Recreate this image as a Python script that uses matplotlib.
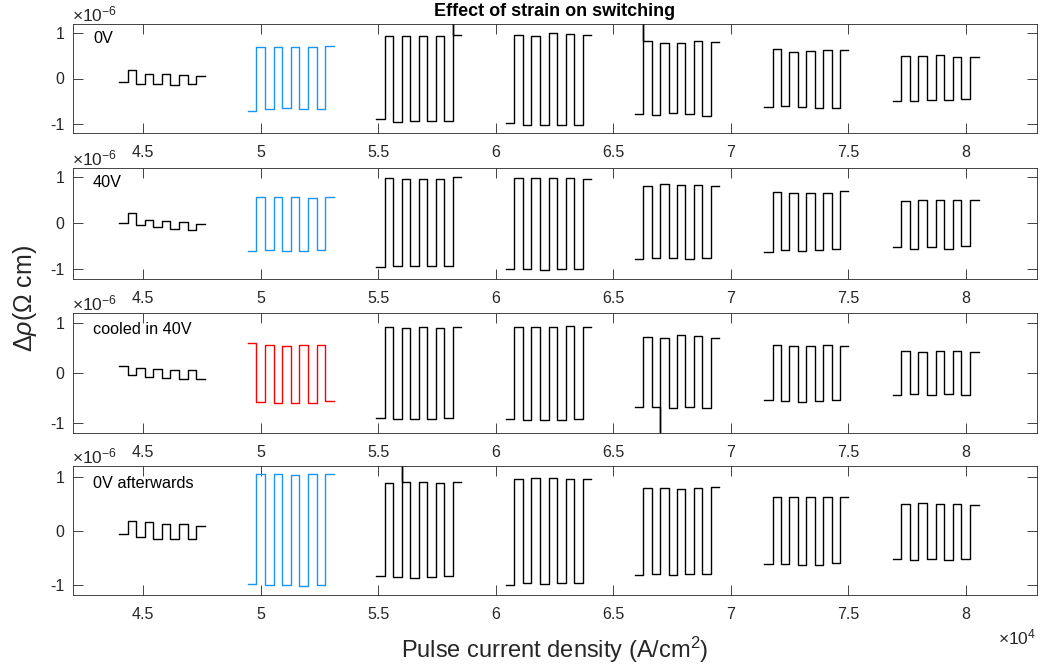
import numpy as np
import matplotlib
matplotlib.use("Agg")
import matplotlib.pyplot as plt
from matplotlib.ticker import FuncFormatter, FixedLocator

plt.rcParams['font.family'] = ['Liberation Sans', 'DejaVu Sans']
plt.rcParams['mathtext.fontset'] = 'custom'
plt.rcParams['mathtext.rm'] = 'Liberation Sans'
plt.rcParams['mathtext.it'] = 'Liberation Sans:italic'
plt.rcParams['axes.unicode_minus'] = False

# ---------------- data ----------------
# burst start / end positions (units of 1e4 A/cm^2)
burst_start = [4.399, 4.946, 5.491, 6.043, 6.591, 7.142, 7.688]
burst_end = [4.762, 5.311, 5.854, 6.406, 6.951, 7.500, 8.054]

panel_labels = ["0V", "40V", "cooled in 40V", "0V afterwards"]

# plateau levels (units of 1e-6 Ohm cm), 10 plateaus per burst
p1_levels = [
    [-0.08, 0.18, -0.12, 0.09, -0.13, 0.09, -0.15, 0.07, -0.13, 0.05],
    [-0.71, 0.69, -0.67, 0.69, -0.66, 0.70, -0.67, 0.69, -0.67, 0.72],
    [-0.89, 0.93, -0.96, 0.93, -0.95, 0.95, -0.95, 0.95, -0.94, 0.97],
    [-0.98, 0.97, -1.02, 0.95, -1.04, 1.00, -1.02, 0.99, -1.02, 0.97],
    [-0.78, 0.82, -0.80, 0.79, -0.77, 0.79, -0.78, 0.82, -0.82, 0.80],
    [-0.63, 0.66, -0.61, 0.59, -0.63, 0.60, -0.65, 0.64, -0.65, 0.64],
    [-0.49, 0.49, -0.49, 0.49, -0.48, 0.53, -0.48, 0.47, -0.46, 0.48],
]
p2_levels = [
    [0.00, 0.22, -0.03, 0.08, -0.08, 0.05, -0.13, 0.03, -0.14, -0.01],
    [-0.60, 0.58, -0.58, 0.57, -0.60, 0.57, -0.60, 0.55, -0.58, 0.58],
    [-0.94, 0.98, -0.92, 0.97, -0.93, 0.97, -0.93, 0.96, -0.93, 1.00],
    [-1.00, 0.98, -1.00, 0.98, -1.02, 0.98, -1.00, 0.98, -0.98, 0.96],
    [-0.77, 0.82, -0.75, 0.85, -0.76, 0.84, -0.78, 0.84, -0.76, 0.80],
    [-0.63, 0.67, -0.58, 0.66, -0.60, 0.66, -0.58, 0.65, -0.56, 0.70],
    [-0.52, 0.48, -0.55, 0.50, -0.52, 0.50, -0.55, 0.51, -0.50, 0.50],
]
p3_levels = [
    [0.14, -0.04, 0.11, -0.09, 0.09, -0.11, 0.07, -0.13, 0.06, -0.13],
    [0.61, -0.59, 0.56, -0.60, 0.55, -0.60, 0.57, -0.60, 0.57, -0.56],
    [-0.90, 0.92, -0.93, 0.91, -0.93, 0.92, -0.92, 0.91, -0.90, 0.92],
    [-0.93, 0.92, -0.95, 0.93, -0.94, 0.93, -0.94, 0.94, -0.93, 0.92],
    [-0.69, 0.73, -0.69, 0.70, -0.71, 0.76, -0.69, 0.74, -0.71, 0.70],
    [-0.55, 0.56, -0.57, 0.55, -0.58, 0.54, -0.56, 0.56, -0.55, 0.55],
    [-0.45, 0.45, -0.43, 0.43, -0.44, 0.44, -0.43, 0.44, -0.44, 0.42],
]
p4_levels = [
    [-0.06, 0.18, -0.12, 0.16, -0.15, 0.13, -0.15, 0.13, -0.15, 0.09],
    [-0.99, 1.06, -1.00, 1.05, -1.00, 1.04, -1.02, 1.05, -1.00, 1.06],
    [-0.84, 0.88, -0.86, 0.90, -0.87, 0.90, -0.86, 0.89, -0.85, 0.90],
    [-1.00, 0.95, -0.98, 0.97, -0.99, 0.97, -0.98, 0.96, -0.97, 0.95],
    [-0.82, 0.80, -0.80, 0.80, -0.82, 0.78, -0.81, 0.80, -0.80, 0.81],
    [-0.62, 0.63, -0.62, 0.62, -0.64, 0.63, -0.63, 0.63, -0.60, 0.63],
    [-0.53, 0.50, -0.54, 0.52, -0.53, 0.50, -0.55, 0.49, -0.53, 0.48],
]
all_levels = [p1_levels, p2_levels, p3_levels, p4_levels]

# spikes: (panel, burst, transition index, extreme value in 1e-6)
spikes = [(0, 2, 9, 1.6), (0, 4, 1, 1.6), (2, 4, 3, -1.6), (3, 2, 3, 1.6)]

# colour of the second burst in each panel
burst2_colors = ["#1A94F5", "#1A94F5", "#FF0000", "#1A94F5"]

x_ticks = [4.5, 5, 5.5, 6, 6.5, 7, 7.5, 8]
y_ticks = [-1, 0, 1]

# ---------------- layout ----------------
W, H = 1041, 668
fig = plt.figure(figsize=(W / 100, H / 100), dpi=100)
ax_left, ax_right = 72.5, 1036.5
panel_px = [(24.3, 132.7), (168.0, 278.7), (313.3, 432.7), (466.0, 595.3)]

AXC = "#262626"
for p, (top, bot) in enumerate(panel_px):
    ax = fig.add_axes([ax_left / W, 1 - bot / H, (ax_right - ax_left) / W, (bot - top) / H])
    levels = all_levels[p]
    for b in range(len(burst_start)):
        lv = levels[b]
        edges = np.linspace(burst_start[b], burst_end[b], len(lv) + 1) * 1e4
        xs, ys = [], []
        for k, v in enumerate(lv):
            if k > 0:
                for (sp, sb, sk, sv) in spikes:
                    if sp == p and sb == b and sk == k:
                        xs.append(edges[k]); ys.append(sv)
            xs += [edges[k], edges[k + 1]]
            ys += [v, v]
        col = burst2_colors[p] if b == 1 else "black"
        ax.plot(xs, np.array(ys) * 1e-6, color=col, lw=1.0)

    ax.set_xlim(4.2e4, 8.3e4)
    ax.set_ylim(-1.2e-6, 1.2e-6)
    ax.xaxis.set_major_locator(FixedLocator([t * 1e4 for t in x_ticks]))
    ax.yaxis.set_major_locator(FixedLocator([t * 1e-6 for t in y_ticks]))
    ax.xaxis.set_major_formatter(FuncFormatter(lambda v, pos: "%g" % round(v / 1e4, 3)))
    ax.yaxis.set_major_formatter(FuncFormatter(lambda v, pos: "%g" % round(v / 1e-6, 3)))
    ax.tick_params(direction="in", length=7, width=0.6, color=AXC, labelcolor=AXC,
                   labelsize=11.5, top=True, right=True)
    ax.tick_params(axis="x", pad=8.5)
    ax.tick_params(axis="y", pad=6)
    for s in ax.spines.values():
        s.set_color(AXC)
        s.set_linewidth(0.6)
    ax.text(4.287e4, 0.88e-6, panel_labels[p], fontsize=11.7, color="black",
            ha="left", va="center")
    ax.text(0.0, 1.0, r"$\times10^{-6}$", transform=ax.transAxes, fontsize=12.5,
            color=AXC, ha="left", va="bottom")
    if p == 3:
        ax.text(1.0, -0.25, r"$\times10^{4}$", transform=ax.transAxes, fontsize=12.5,
                color=AXC, ha="right", va="top")

fig.text((ax_left + ax_right) / 2 / W, 1 - 12 / H, "Effect of strain on switching",
         fontsize=13, fontweight="bold", ha="center", va="center", color="black")
fig.text((ax_left + ax_right) / 2 / W, 1 - 650 / H, "Pulse current density (A/cm$^{2}$)",
         fontsize=17, ha="center", va="center", color=AXC)
fig.text(25 / W, 1 - 298 / H, "Δ$\\rho$(Ω cm)", fontsize=18, rotation=90,
         ha="center", va="center", color=AXC)

fig.savefig("out.png", dpi=100)
